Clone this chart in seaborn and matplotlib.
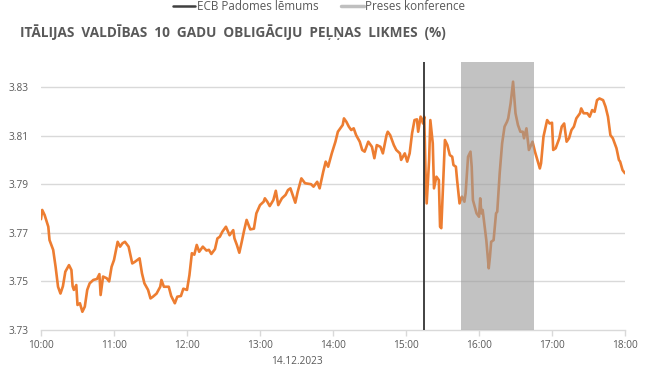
import matplotlib
matplotlib.use("Agg")
import matplotlib.pyplot as plt
import seaborn as sns
import pandas as pd
from matplotlib.lines import Line2D

# ---- data ----
minutes_after_10 = [0, 1, 3, 6, 7, 10, 12, 14, 16, 18, 20, 23, 25, 26, 27, 29, 30, 32, 34, 36, 38, 40, 43, 46, 48, 49, 51, 54, 56, 58,
    60, 63, 65, 67, 69, 72, 75, 77, 81, 83, 85, 88, 90, 92, 95, 98, 99, 101, 105, 107, 110, 112, 115, 117,
    120, 122, 124, 126, 128, 130, 133, 136, 138, 140, 143, 145, 147, 149, 152, 155, 158, 159, 161, 163, 165, 167, 169, 172, 175, 177,
    180, 183, 184, 186, 188, 191, 193, 195, 198, 201, 203, 205, 209, 211, 214, 217, 222, 224, 227, 229, 232, 234, 236, 239,
    242, 244, 246, 248, 249, 251, 253, 255, 257, 259, 262, 264, 266, 269, 272, 274, 276, 279, 281, 284, 285, 287, 290, 292, 295, 296, 299,
    301, 303, 305, 307, 309, 310, 312, 314, 315, 316, 317, 319, 320, 322, 323, 325, 327, 328, 329, 331, 332, 334, 336, 338, 339,
    341, 342, 344, 346, 348, 349, 351, 353, 354, 355, 358, 360, 361, 362, 363, 364, 366, 368, 369, 370, 372, 374, 375, 377, 379,
    381, 383, 384, 386, 388, 390, 392, 394, 396, 397, 399, 401, 404, 406, 410, 411, 413, 416, 418, 420, 421, 423, 426, 428, 430,
    432, 434, 436, 438, 440, 443, 444, 446, 449, 451, 453, 455, 457, 459, 462, 464, 466, 468, 470, 473, 475, 476, 478, 480]

yield_pct = [3.7756, 3.7794, 3.7773, 3.7725, 3.7670, 3.7630, 3.7560, 3.7478, 3.7450, 3.7480, 3.7540, 3.7567, 3.7547, 3.7480, 3.7465, 3.7485, 3.7403, 3.7410, 3.7375, 3.7396, 3.7465, 3.7492, 3.7506, 3.7510, 3.7530, 3.7444, 3.7520, 3.7513, 3.7500, 3.7560,
    3.7588, 3.7663, 3.7643, 3.7657, 3.7663, 3.7643, 3.7574, 3.7580, 3.7595, 3.7533, 3.7492, 3.7465, 3.7430, 3.7437, 3.7450, 3.7478, 3.7506, 3.7478, 3.7478, 3.7440, 3.7410, 3.7437, 3.7440, 3.7470,
    3.7465, 3.7526, 3.7616, 3.7610, 3.7650, 3.7622, 3.7643, 3.7627, 3.7630, 3.7613, 3.7633, 3.7677, 3.7684, 3.7704, 3.7725, 3.7690, 3.7711, 3.7677, 3.7650, 3.7618, 3.7663, 3.7711, 3.7753, 3.7714, 3.7717, 3.7780,
    3.7814, 3.7828, 3.7842, 3.7828, 3.7810, 3.7835, 3.7873, 3.7814, 3.7842, 3.7856, 3.7876, 3.7883, 3.7824, 3.7869, 3.7924, 3.7904, 3.7900, 3.7890, 3.7910, 3.7883, 3.7952, 3.7993, 3.7972, 3.8027,
    3.8075, 3.8116, 3.8130, 3.8144, 3.8171, 3.8157, 3.8137, 3.8123, 3.8130, 3.8102, 3.8075, 3.8041, 3.8034, 3.8075, 3.8054, 3.8007, 3.8061, 3.8054, 3.8027, 3.8102, 3.8116, 3.8102, 3.8061, 3.8041, 3.8027, 3.8000, 3.8027,
    3.7993, 3.8027, 3.8110, 3.8164, 3.8167, 3.8116, 3.8178, 3.8150, 3.8178, 3.7958, 3.7821, 3.8000, 3.8164, 3.8068, 3.7883, 3.7931, 3.7917, 3.7725, 3.7719, 3.7958, 3.8082, 3.8061, 3.8020, 3.8013, 3.7979,
    3.7972, 3.7917, 3.7821, 3.7849, 3.7828, 3.7863, 3.8013, 3.8034, 3.7972, 3.7835, 3.7780, 3.7766, 3.7842, 3.7780, 3.7794, 3.7753, 3.7670, 3.7554, 3.7602, 3.7663, 3.7670, 3.7780, 3.7787, 3.7945, 3.8068,
    3.8137, 3.8157, 3.8171, 3.8233, 3.8322, 3.8192, 3.8144, 3.8116, 3.8116, 3.8089, 3.8130, 3.8041, 3.8075, 3.8034, 3.7965, 3.7986, 3.8096, 3.8164, 3.8150, 3.8153, 3.8041, 3.8048, 3.8089, 3.8137, 3.8150,
    3.8075, 3.8089, 3.8123, 3.8137, 3.8171, 3.8192, 3.8212, 3.8192, 3.8192, 3.8178, 3.8205, 3.8198, 3.8246, 3.8253, 3.8246, 3.8219, 3.8178, 3.8102, 3.8089, 3.8048, 3.8000, 3.7993, 3.7958, 3.7945]

x_tick_labels = ["10:00", "11:00", "12:00", "13:00", "14:00", "15:00", "16:00", "17:00", "18:00"]
y_ticks = [3.73, 3.75, 3.77, 3.79, 3.81, 3.83]
ecb_decision_minute = 315          # 15:15
press_conf_minutes = [345, 405]     # 15:45 - 16:45
title = "ITĀLIJAS  VALDĪBAS  10  GADU  OBLIGĀCIJU  PEĻŅAS  LIKMES  (%)"
legend_labels = ["ECB Padomes lēmums", "Preses konference"]
date_label = "14.12.2023"

df = pd.DataFrame({"minute": minutes_after_10, "yield": yield_pct})

# ---- plot ----
sns.set_style("white")
plt.rcParams["font.family"] = ["Open Sans", "DejaVu Sans"]
text_col = "#595959"

fig = plt.figure(figsize=(6.5, 3.67), dpi=100)
ax = fig.add_axes([41 / 650, 1 - 330 / 367, 584 / 650, 268 / 367])

for yv in y_ticks[1:]:
    ax.axhline(yv, color="#D9D9D9", lw=1.0, zorder=0)

sns.lineplot(data=df, x="minute", y="yield", ax=ax, color="#ED7D31", lw=1.9, zorder=2)

ax.axvspan(press_conf_minutes[0], press_conf_minutes[1], color="#9A9A9A", alpha=0.6, lw=0, zorder=3)
ax.axvline(ecb_decision_minute, color="#333333", lw=1.3, zorder=4)

ax.set_xlim(0, 480)
ax.set_ylim(3.73, 3.8403)
ax.set_xticks([i * 60 for i in range(len(x_tick_labels))])
ax.set_xticklabels(x_tick_labels)
ax.set_yticks(y_ticks)
ax.set_yticklabels([f"{v:.2f}" for v in y_ticks])
ax.set_xlabel("")
ax.set_ylabel("")
for s in ["top", "right", "left"]:
    ax.spines[s].set_visible(False)
ax.spines["bottom"].set_color("#D9D9D9")
ax.spines["bottom"].set_linewidth(1.0)
ax.tick_params(axis="x", length=4, width=1, color="#D9D9D9", labelsize=7.3, labelcolor=text_col, pad=3, direction="out")
ax.tick_params(axis="y", length=0, labelsize=7.3, labelcolor=text_col, pad=9)
ax.xaxis.set_ticks_position("bottom")

fig.text(20 / 650, 1 - 32 / 367, title, fontsize=9.8, fontweight="bold", color=text_col, va="center", ha="left")
fig.text(297 / 650, 1 - 362 / 367, date_label, fontsize=7.3, color=text_col, va="center", ha="center")

handles = [Line2D([0], [0], color="#404040", lw=1.8),
           Line2D([0], [0], color="#BFBFBF", lw=2.5)]
fig.legend(handles, legend_labels, loc="center", bbox_to_anchor=(319 / 650, 1 - 7 / 367), ncol=2,
           frameon=False, fontsize=8.4, labelcolor=text_col, handlelength=1.95, handletextpad=0.1,
           columnspacing=2.0, borderaxespad=0, borderpad=0)

fig.savefig("out.png", dpi=100)
